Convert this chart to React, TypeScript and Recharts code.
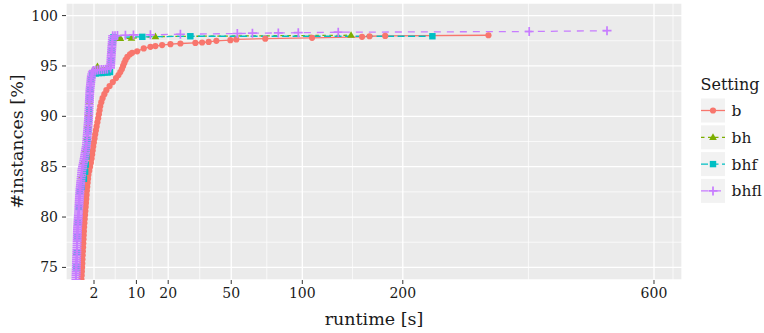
import React from "react";
import { LineChart, Line, XAxis, YAxis, CartesianGrid } from "recharts";

const FONT = "DejaVu Serif";

const xTicks = [2, 10, 20, 50, 100, 200, 600];
const yTicks = [75, 80, 85, 90, 95, 100];
const xMinor = [0.3, 5.24, 14.57, 33.31, 72.86, 145.7, 373.2, 639];
const yMinor = [77.5, 82.5, 87.5, 92.5, 97.5];

// b
const bTime = [
  0.789, 0.804, 0.82, 0.835, 0.851, 0.866, 0.882, 0.897, 0.913, 0.929, 0.945, 0.961, 0.977, 0.993,
  1.014, 1.04, 1.066, 1.092, 1.119, 1.145, 1.173, 1.2, 1.228, 1.255,
  1.29, 1.328, 1.367, 1.405, 1.486, 1.569, 1.653, 1.73, 1.79, 1.85, 1.91,
  1.981, 2.061, 2.141, 2.221, 2.317, 2.417, 2.517, 2.611, 2.701, 2.791, 2.941, 3.121, 3.389, 3.7,
  4.228, 4.793, 5.393, 5.865, 6.241, 6.573, 6.829, 7.094, 7.372, 7.783, 8.4, 8.92,
  10.19, 12.0, 13.99, 15.57, 17.82, 20.83, 24.75, 31.28, 34.45, 37.71, 41.7, 49.49, 53.0,
  71.8, 108.2, 155.3, 163.1, 180, 312.3,
];
const bPct = [
  73.4, 73.8, 74.2, 74.6, 75.0, 75.4, 75.8, 76.2, 76.6, 77.0, 77.4, 77.8, 78.2, 78.6,
  79.0, 79.4, 79.8, 80.2, 80.6, 81.0, 81.4, 81.8, 82.2, 82.6,
  83.0, 83.4, 83.8, 84.2, 84.6, 85.0, 85.4, 85.8, 86.2, 86.6, 87.0,
  87.4, 87.8, 88.2, 88.6, 89.0, 89.4, 89.8, 90.2, 90.6, 91.0, 91.4, 91.8, 92.2, 92.6,
  93.0, 93.4, 93.8, 94.1, 94.4, 94.7, 95.0, 95.3, 95.6, 95.9, 96.15, 96.3,
  96.45, 96.74, 96.9, 96.97, 97.07, 97.16, 97.23, 97.29, 97.33, 97.39, 97.49, 97.56, 97.63,
  97.71, 97.79, 97.89, 97.95, 97.98, 98.05,
];

// bh
const bhTime = [
  0.444, 0.471, 0.497, 0.524, 0.567, 0.629, 0.69, 0.791, 0.97, 1.148, 1.273, 1.364, 1.439, 1.5,
  1.566, 1.662, 1.85, 2.42, 3.9, 4.4, 4.5, 4.6, 4.9, 6.27, 8.75, 15.57, 144.2,
];
const bhPct = [
  73.5, 75.0, 76.5, 78.0, 79.5, 81.0, 82.5, 84.0, 85.5, 86.7, 87.9, 89.1, 90.3, 91.5,
  92.7, 93.6, 94.5, 94.95, 94.75, 95.6, 96.5, 97.3, 97.7, 97.73, 97.75, 97.92, 98.05,
];

// bhf
const bhfTime = [
  0.444, 0.471, 0.497, 0.524, 0.567, 0.629, 0.69, 0.82, 1.0, 1.1, 1.15, 1.2, 1.25, 1.32, 1.38,
  1.43, 1.47, 1.52, 1.57, 1.66, 1.8, 2.2, 2.6, 3.0, 3.4, 3.9, 4.3, 4.5, 4.6, 4.75, 4.91,
  11.6, 29.0, 236,
];
const bhfPct = [
  73.5, 75.0, 76.5, 78.0, 79.5, 81.0, 82.5, 83.0, 83.8, 84.5, 85.2, 86.0, 86.8, 87.6, 88.6,
  89.6, 90.6, 91.8, 92.7, 93.6, 94.1, 94.25, 94.3, 94.3, 94.35, 94.35, 94.4, 95.5, 96.5, 97.4, 97.85,
  97.89, 97.95, 97.95,
];

// bhfl
const bhflTime = [
  0.442, 0.446, 0.449, 0.453, 0.456, 0.46, 0.464, 0.467, 0.471, 0.474, 0.478, 0.481, 0.485, 0.488,
  0.492, 0.496, 0.499, 0.503, 0.506, 0.51, 0.513, 0.517, 0.521, 0.524, 0.528, 0.531, 0.535,
  0.539, 0.547, 0.555, 0.563, 0.571, 0.58, 0.588, 0.596, 0.604, 0.612, 0.62, 0.628, 0.637, 0.645,
  0.653, 0.661, 0.669, 0.677, 0.686, 0.694,
  0.704, 0.719, 0.733, 0.748, 0.762, 0.777, 0.791, 0.806, 0.82, 0.835,
  0.857, 0.89, 0.922, 0.954, 0.986,
  1.017, 1.046, 1.075, 1.104, 1.133, 1.163, 1.192,
  1.22, 1.235, 1.25, 1.265, 1.28, 1.296, 1.311, 1.326, 1.341, 1.356, 1.372, 1.387, 1.402,
  1.414, 1.424, 1.434, 1.444, 1.454, 1.465, 1.475, 1.485, 1.495, 1.505, 1.515, 1.526, 1.536,
  1.546, 1.556,
  1.576, 1.598, 1.619, 1.641, 1.662, 1.684, 1.705, 1.748, 1.813,
  1.9, 1.95, 2.174, 2.423, 2.687, 2.964, 3.254, 3.558, 3.876,
  4.38, 4.4, 4.43, 4.45, 4.47, 4.49, 4.51, 4.54, 4.56, 4.59, 4.61, 4.64, 4.67, 4.69, 4.72, 4.75,
  4.78,
  5.2, 5.67, 7.34, 9.24, 13.99, 24.75, 53.6, 63.1, 81.2, 96.7, 131.8, 374.5, 508.9,
];
const bhflPct = [
  73.4, 73.6, 73.8, 74.0, 74.2, 74.4, 74.6, 74.8, 75.0, 75.2, 75.4, 75.6, 75.8, 76.0,
  76.2, 76.4, 76.6, 76.8, 77.0, 77.2, 77.4, 77.6, 77.8, 78.0, 78.2, 78.4, 78.6,
  78.8, 79.0, 79.2, 79.4, 79.6, 79.8, 80.0, 80.2, 80.4, 80.6, 80.8, 81.0, 81.2, 81.4,
  81.6, 81.8, 82.0, 82.2, 82.4, 82.6,
  82.8, 83.0, 83.2, 83.4, 83.6, 83.8, 84.0, 84.2, 84.4, 84.6,
  84.8, 85.0, 85.2, 85.4, 85.6,
  85.8, 86.0, 86.2, 86.4, 86.6, 86.8, 87.0,
  87.2, 87.4, 87.6, 87.8, 88.0, 88.2, 88.4, 88.6, 88.8, 89.0, 89.2, 89.4, 89.6,
  89.8, 90.0, 90.2, 90.4, 90.6, 90.8, 91.0, 91.2, 91.4, 91.6, 91.8, 92.0, 92.2,
  92.4, 92.6,
  92.8, 93.0, 93.2, 93.4, 93.6, 93.8, 94.0, 94.2, 94.4,
  94.5, 94.55, 94.57, 94.6, 94.62, 94.64, 94.66, 94.68, 94.7,
  94.8, 95.0, 95.2, 95.4, 95.6, 95.8, 96.0, 96.2, 96.4, 96.6, 96.8, 97.0, 97.2, 97.4, 97.6, 97.8,
  98.0,
  98.0, 98.02, 98.05, 98.08, 98.1, 98.15, 98.22, 98.25, 98.28, 98.3, 98.35, 98.42, 98.5,
];

const zip = (t: number[], p: number[]) => t.map((x, i) => ({ x, y: p[i] }));

const RED = "#F8766D";
const GREEN = "#7CAE00";
const CYAN = "#00BFC4";
const PURPLE = "#C77CFF";

const marker = (kind: string, color: string, cx: number, cy: number, key?: any) => {
  if (kind === "circle") return <circle key={key} cx={cx} cy={cy} r={3.1} fill={color} />;
  if (kind === "triangle")
    return (
      <polygon
        key={key}
        points={`${cx},${cy - 4} ${cx - 3.8},${cy + 2.6} ${cx + 3.8},${cy + 2.6}`}
        fill={color}
      />
    );
  if (kind === "square")
    return <rect key={key} x={cx - 3.2} y={cy - 3.2} width={6.4} height={6.4} fill={color} />;
  return (
    <path
      key={key}
      d={`M${cx - 4.5},${cy}h9M${cx},${cy - 4.5}v9`}
      stroke={color}
      strokeWidth={1.7}
      fill="none"
    />
  );
};

const dotFn = (kind: string, color: string) => (props: any) => {
  if (props.cx == null || props.cy == null) return <g key={`e${props.index}`} />;
  return marker(kind, color, props.cx, props.cy, `d${props.index}`);
};

const series = [
  { name: "b", data: zip(bTime, bPct), color: RED, kind: "circle", dash: undefined },
  { name: "bh", data: zip(bhTime, bhPct), color: GREEN, kind: "triangle", dash: "3.5 3.5" },
  { name: "bhf", data: zip(bhfTime, bhfPct), color: CYAN, kind: "square", dash: "7 3.5" },
  { name: "bhfl", data: zip(bhflTime, bhflPct), color: PURPLE, kind: "plus", dash: "7 6" },
];

const tickStyle = { fill: "#1a1a1a", fontSize: 14, fontFamily: FONT };

export default function App() {
  return (
    <div
      style={{
        position: "relative",
        width: 764,
        height: 333,
        fontFamily: FONT,
        background: "#fff",
      }}
    >
      <style>{`body{margin:0}`}</style>
      <LineChart width={764} height={333} margin={{ top: 3, right: 82, bottom: 0, left: 0 }}>
        <CartesianGrid
          fill="#EBEBEB"
          stroke="#FFFFFF"
          strokeWidth={0.7}
          verticalValues={xMinor}
          horizontalValues={yMinor}
        />
        <CartesianGrid stroke="#FFFFFF" strokeWidth={1.3} />
        <XAxis
          type="number"
          dataKey="x"
          scale="sqrt"
          domain={[0.0676, 657.9]}
          allowDataOverflow
          ticks={xTicks}
          interval={0}
          height={53}
          tickSize={4}
          tickMargin={4}
          axisLine={false}
          tickLine={{ stroke: "#333333" }}
          tick={tickStyle}
        />
        <YAxis
          type="number"
          domain={[73.75, 101.25]}
          allowDataOverflow
          ticks={yTicks}
          interval={0}
          width={66}
          tickSize={4}
          tickMargin={4}
          axisLine={false}
          tickLine={{ stroke: "#333333" }}
          tick={tickStyle}
        />
        {series.map((s) => (
          <Line
            key={s.name}
            data={s.data}
            dataKey="y"
            type="linear"
            stroke={s.color}
            strokeWidth={1.3}
            strokeDasharray={s.dash}
            dot={dotFn(s.kind, s.color)}
            activeDot={false}
            isAnimationActive={false}
          />
        ))}
      </LineChart>
      <svg
        width={764}
        height={333}
        fontFamily={FONT}
        style={{ position: "absolute", left: 0, top: 0, pointerEvents: "none" }}
      >
        <text
          transform="translate(23,141.5) rotate(-90)"
          textAnchor="middle"
          fontSize={17.5}
          fill="#1a1a1a"
        >
          #instances [%]
        </text>
        <text x={374} y={325} textAnchor="middle" fontSize={17.5} fill="#1a1a1a">
          runtime [s]
        </text>
        <text x={700.5} y={90} fontSize={16} fill="#1a1a1a">
          Setting
        </text>
        {series.map((s, i) => {
          const top = 98.5 + i * 26.8;
          const cy = top + 12;
          return (
            <g key={s.name}>
              <rect x={701} y={top} width={24} height={24} fill="#F2F2F2" />
              <line
                x1={701}
                x2={725}
                y1={cy}
                y2={cy}
                stroke={s.color}
                strokeWidth={1.3}
                strokeDasharray={s.dash}
              />
              {marker(s.kind, s.color, 713, cy)}
              <text x={731.5} y={cy + 5.5} fontSize={15.5} fill="#1a1a1a">
                {s.name}
              </text>
            </g>
          );
        })}
      </svg>
    </div>
  );
}
